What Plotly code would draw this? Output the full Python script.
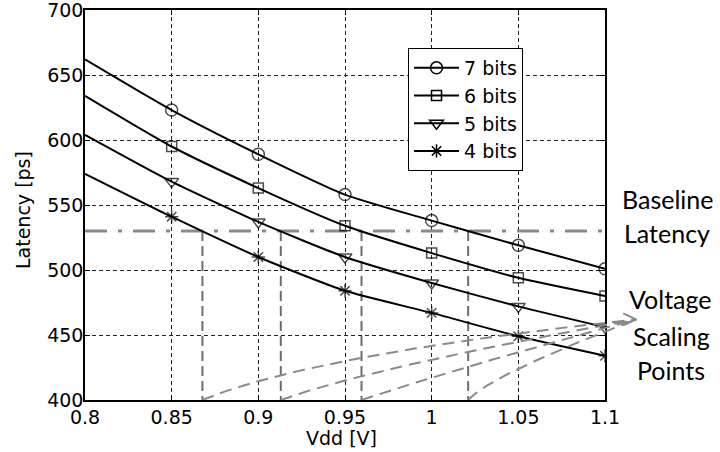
import numpy as np
import plotly.graph_objects as go

# ---- data -------------------------------------------------------------
vdd = [0.8, 0.85, 0.9, 0.95, 1.0, 1.05, 1.1]
lat_7bits = [662, 623, 589, 558, 538, 519, 501]
lat_6bits = [634, 595, 563, 534, 513, 494, 480]
lat_5bits = [604, 568, 537, 510, 490, 472, 456]
lat_4bits = [574, 541, 510, 484, 467, 449, 434]
series_names = ["7 bits", "6 bits", "5 bits", "4 bits"]
baseline_latency = 530

x_tickvals = [0.8, 0.85, 0.9, 0.95, 1.0, 1.05, 1.1]
x_ticktext = ["0.8", "0.85", "0.9", "0.95", "1", "1.05", "1.1"]
y_tickvals = [400, 450, 500, 550, 600, 650, 700]

# ---- geometry ---------------------------------------------------------
W, H = 720, 452
PX_L, PX_R, PX_T, PX_B = 85, 605, 10, 400     # plot frame in pixels
X_RANGE = [0.8, 1.1]
Y_RANGE = [400, 700]
EXT_R = 660                                    # overlay frame for the arrows

dom_x = [PX_L / W, PX_R / W]
dom_y = [(H - PX_B) / H, (H - PX_T) / H]
ext_xmax = X_RANGE[0] + (X_RANGE[1] - X_RANGE[0]) * (EXT_R - PX_L) / (PX_R - PX_L)

AXIS_FONT = dict(family="DejaVu Sans", size=19, color="black")
NOTE_FONT = dict(family="Lato", size=25, color="black")

symbols = ["circle-open", "square-open", "triangle-down-open", "asterisk-open"]
msizes = [12, 10, 12, 11]
all_series = [lat_7bits, lat_6bits, lat_5bits, lat_4bits]

fig = go.Figure()

# baseline latency (dash-dot grey)
fig.add_trace(go.Scatter(
    x=[X_RANGE[0], X_RANGE[1]], y=[baseline_latency, baseline_latency],
    mode="lines", line=dict(color="#8a8a8a", width=3, dash="22px,11px,4px,11px"),
    showlegend=False, hoverinfo="skip"))

# voltage at which each configuration reaches the baseline latency
vdd_arr = np.array(vdd)
cross_x = [float(np.interp(baseline_latency, np.array(s)[::-1], vdd_arr[::-1]))
           for s in all_series]

for cx in cross_x:
    fig.add_trace(go.Scatter(
        x=[cx, cx], y=[baseline_latency, Y_RANGE[0]], mode="lines",
        line=dict(color="#6e6e6e", width=2, dash="10px,5px"),
        showlegend=False, hoverinfo="skip"))

# curved dashed arrows to the "Voltage Scaling Points" note (overlay axes)
arrow_tip = (1.118, 462)
arrow_ctrl = [(1.0337, 419), (1.0106, 423), (0.9644, 425), (0.9307, 435)]
t = np.linspace(0, 1, 60)
for cx, (qx, qy) in zip(cross_x[::-1], arrow_ctrl[::-1]):
    bx = (1 - t) ** 2 * cx + 2 * (1 - t) * t * qx + t ** 2 * arrow_tip[0]
    by = (1 - t) ** 2 * Y_RANGE[0] + 2 * (1 - t) * t * qy + t ** 2 * arrow_tip[1]
    fig.add_trace(go.Scatter(
        x=bx, y=by, mode="lines", xaxis="x2", yaxis="y2",
        line=dict(color="#8a8a8a", width=2, dash="12px,7px"),
        showlegend=False, hoverinfo="skip"))

head_dx, head_dy = 0.0075, 4.6
fig.add_trace(go.Scatter(
    x=[arrow_tip[0] - head_dx, arrow_tip[0], arrow_tip[0] - head_dx],
    y=[arrow_tip[1] + head_dy, arrow_tip[1], arrow_tip[1] - head_dy],
    mode="lines", xaxis="x2", yaxis="y2",
    line=dict(color="#8a8a8a", width=2),
    showlegend=False, hoverinfo="skip"))

# latency curves (no marker at the first point)
for name, ys, sym, ms in zip(series_names, all_series, symbols, msizes):
    fig.add_trace(go.Scatter(
        x=vdd, y=ys, mode="lines+markers", name=name,
        line=dict(color="black", width=2, shape="spline", smoothing=0.6),
        marker=dict(symbol=sym, size=[0] + [ms] * (len(vdd) - 1),
                    color="black", line=dict(color="black", width=1.5)),
        showlegend=False))

# legend entries
for name, sym, ms in zip(series_names, symbols, msizes):
    fig.add_trace(go.Scatter(
        x=[None], y=[None], mode="lines+markers", name=name,
        line=dict(color="black", width=2),
        marker=dict(symbol=sym, size=ms, color="black",
                    line=dict(color="black", width=1.5))))

grid = dict(showgrid=True, gridcolor="#222222", gridwidth=1, griddash="4px,3px",
            showline=True, linecolor="black", linewidth=1.5, mirror="ticks",
            ticks="inside", ticklen=5, tickcolor="black", tickwidth=1,
            tickfont=AXIS_FONT, zeroline=False, automargin=False,
            ticklabeloverflow="allow")

fig.update_layout(
    width=W, height=H,
    margin=dict(l=0, r=0, t=0, b=0, autoexpand=False),
    paper_bgcolor="white", plot_bgcolor="rgba(0,0,0,0)",
    xaxis=dict(domain=dom_x, range=X_RANGE, tickvals=x_tickvals,
               ticktext=x_ticktext, anchor="y", ticklabelstandoff=-1, **grid),
    yaxis=dict(domain=dom_y, range=Y_RANGE, tickvals=y_tickvals,
               anchor="x", ticklabelstandoff=-4, **grid),
    xaxis2=dict(domain=[PX_L / W, EXT_R / W], range=[X_RANGE[0], ext_xmax],
                anchor="y2", visible=False),
    yaxis2=dict(domain=dom_y, range=Y_RANGE, anchor="x2", visible=False),
    legend=dict(x=408 / W, y=1 - 48 / H, xanchor="left", yanchor="top",
                bgcolor="white", bordercolor="black", borderwidth=1,
                font=AXIS_FONT, itemwidth=45, tracegroupgap=0),
    showlegend=True,
)

annotations = [
    dict(text="Vdd [V]", x=341 / W, y=1 - 438 / H, font=AXIS_FONT),
    dict(text="Latency [ps]", x=23 / W, y=1 - 210 / H, font=AXIS_FONT,
         textangle=-90),
    dict(text="Baseline", x=667 / W, y=1 - 199 / H, font=NOTE_FONT),
    dict(text="Latency", x=667 / W, y=1 - 233 / H, font=NOTE_FONT),
    dict(text="Voltage", x=670 / W, y=1 - 299 / H, font=NOTE_FONT),
    dict(text="Scaling", x=671 / W, y=1 - 336 / H, font=NOTE_FONT),
    dict(text="Points", x=671 / W, y=1 - 370 / H, font=NOTE_FONT),
]
for a in annotations:
    fig.add_annotation(xref="paper", yref="paper", showarrow=False,
                       xanchor="center", yanchor="middle", **a)

fig.write_html("out.html")
